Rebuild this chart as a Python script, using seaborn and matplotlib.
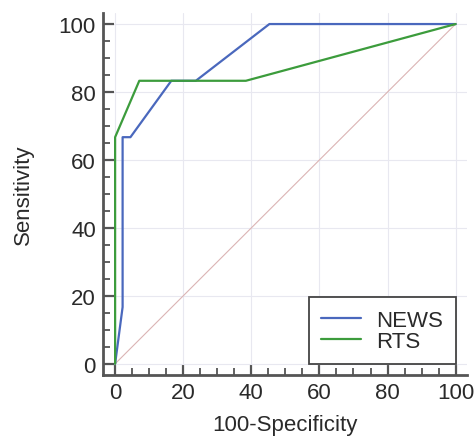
import pandas as pd
import matplotlib
matplotlib.use('Agg')
import matplotlib.pyplot as plt
import seaborn as sns

# ROC curve points
news_fpr = [0, 2.2, 2.2, 4.5, 16.5, 23.7, 45.3, 100]
news_tpr = [0, 16.7, 66.7, 66.7, 83.3, 83.3, 100, 100]
rts_fpr = [0, 0, 7.1, 38.4, 100]
rts_tpr = [0, 66.7, 83.3, 83.3, 100]
diag = [0, 100]

df = pd.concat([
    pd.DataFrame({'fpr': news_fpr, 'tpr': news_tpr, 'Test': 'NEWS'}),
    pd.DataFrame({'fpr': rts_fpr, 'tpr': rts_tpr, 'Test': 'RTS'}),
], ignore_index=True)

sns.set_style('white')
plt.rcParams['font.family'] = ['Liberation Sans', 'DejaVu Sans']

fig = plt.figure(figsize=(4.74, 4.39), dpi=100)
ax = fig.add_axes([0.217, 0.1435, 0.768, 0.825])

ax.grid(True, color='#e8e8f0', linewidth=0.8)
ax.set_axisbelow(True)

# diagonal reference line
ax.plot(diag, diag, color='#dbb4b4', linewidth=0.8, zorder=1)

sns.lineplot(data=df, x='fpr', y='tpr', hue='Test', estimator=None, sort=False,
             palette={'NEWS': '#4a68bd', 'RTS': '#3c9c3c'}, linewidth=1.6, ax=ax)

ax.set_xlim(-3.6, 103.3)
ax.set_ylim(-3.3, 103.3)
ax.set_xticks(range(0, 101, 20))
ax.set_yticks(range(0, 101, 20))
ax.set_xticks(range(0, 101, 5), minor=True)
ax.set_yticks(range(0, 101, 5), minor=True)

ax.tick_params(which='major', direction='in', length=8, width=1.6, color='#555555',
               labelsize=16, labelcolor='#2a2a2a', pad=5, bottom=True, left=True)
ax.tick_params(which='minor', direction='in', length=5, width=1.3, color='#555555',
               bottom=True, left=True)

for side in ['top', 'right']:
    ax.spines[side].set_visible(False)
for side in ['left', 'bottom']:
    ax.spines[side].set_color('#555555')
    ax.spines[side].set_linewidth(2)

ax.set_xlabel('100-Specificity', fontsize=16, color='#2a2a2a', labelpad=8)
ax.set_ylabel('Sensitivity', fontsize=16, color='#2a2a2a', labelpad=18)

leg = ax.legend(loc='lower right', bbox_to_anchor=(100, 0), bbox_transform=ax.transData,
                borderaxespad=0, fontsize=16, frameon=True, fancybox=False,
                framealpha=1, handlelength=1.8, handletextpad=0.7,
                borderpad=0.55, labelspacing=0.0, title=None)
leg.get_frame().set_edgecolor('#444444')
leg.get_frame().set_linewidth(1.3)
for t in leg.get_texts():
    t.set_color('#2a2a2a')

fig.savefig('out.png', dpi=100)
